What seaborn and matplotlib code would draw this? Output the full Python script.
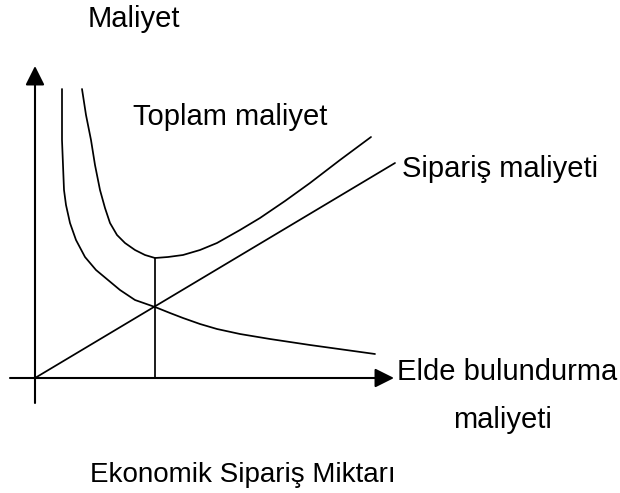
#! /usr/bin/env python3
# -*- coding: utf-8 -*-

import pandas as pd
import matplotlib
matplotlib.use('Agg')
import matplotlib.pyplot as plt
import seaborn as sns


###DATA### (units are arbitrary)
#Toplam maliyet (U shaped curve)
total_q = [47, 51, 56, 60, 65, 70, 75, 82, 90, 100, 110, 120, 133, 148, 165,
	182, 205, 225, 250, 275, 305, 336]
total_c = [289, 263, 238, 213, 188, 170, 155, 143, 135, 128, 123, 120, 121,
	123, 128, 135, 148, 160, 177, 195, 218, 241]

#Falling curve
falling_q = [27, 27, 27, 28, 29, 31, 35, 41, 50, 61, 73, 85, 100, 120, 135,
	148, 165, 182, 205, 235, 275, 340]
falling_c = [289, 268, 238, 213, 188, 173, 155, 138, 121, 108, 98, 88, 78,
	71, 65, 60, 54, 49, 44, 39, 33, 24]

#Straight rising line
rising_q = [0, 360]
rising_c = [0, 215]

#Economic order quantity
eoq_q = 120
eoq_c = 120

#Axis extents
x_axis = [-25, 359]
y_axis = [-25, 312]

y_title = 'Maliyet'
x_title = 'Ekonomik Sipariş Miktarı'
total_label = 'Toplam maliyet'
rising_label = 'Sipariş maliyeti'
falling_label = ['Elde bulundurma', 'maliyeti']


###PLOT###
sns.set_style('white')
plt.rcParams['font.family'] = ['Liberation Sans', 'DejaVu Sans']
plt.rcParams['text.color'] = 'black'

fig = plt.figure(figsize=(6.2, 4.93), dpi=100)
ax = fig.add_axes([0, 0, 1, 1])

lw = 1.25
for q, c in [(total_q, total_c), (falling_q, falling_c), (rising_q, rising_c)]:
	df = pd.DataFrame({'q': q, 'c': c})
	sns.lineplot(data=df, x='q', y='c', ax=ax, color='black', linewidth=lw,
		sort=False, estimator=None)

ax.plot([eoq_q, eoq_q], [0, eoq_c], color='black', linewidth=lw)

#axes with arrow heads
arrow = dict(arrowstyle='-|>', mutation_scale=29, lw=1.5, color='black',
	shrinkA=0, shrinkB=0)
ax.annotate('', xy=(0, y_axis[1]), xytext=(0, y_axis[0]), arrowprops=arrow)
ax.annotate('', xy=(x_axis[1], 0), xytext=(x_axis[0], 0), arrowprops=arrow)

fs = 21
ax.text(53, 351, y_title, fontsize=fs, ha='left', va='baseline')
ax.text(98, 253, total_label, fontsize=fs, ha='left', va='baseline')
ax.text(367, 201, rising_label, fontsize=fs, ha='left', va='baseline')
ax.text(362, -2, falling_label[0], fontsize=fs, ha='left', va='baseline')
ax.text(468, -50, falling_label[1], fontsize=fs, ha='center', va='baseline')
ax.text(55, -104, x_title, fontsize=20, ha='left', va='baseline')

ax.set_xlim(-35, 585)
ax.set_ylim(-115, 378)
ax.set_axis_off()

fig.savefig('out.png', dpi=100)
plt.close()
